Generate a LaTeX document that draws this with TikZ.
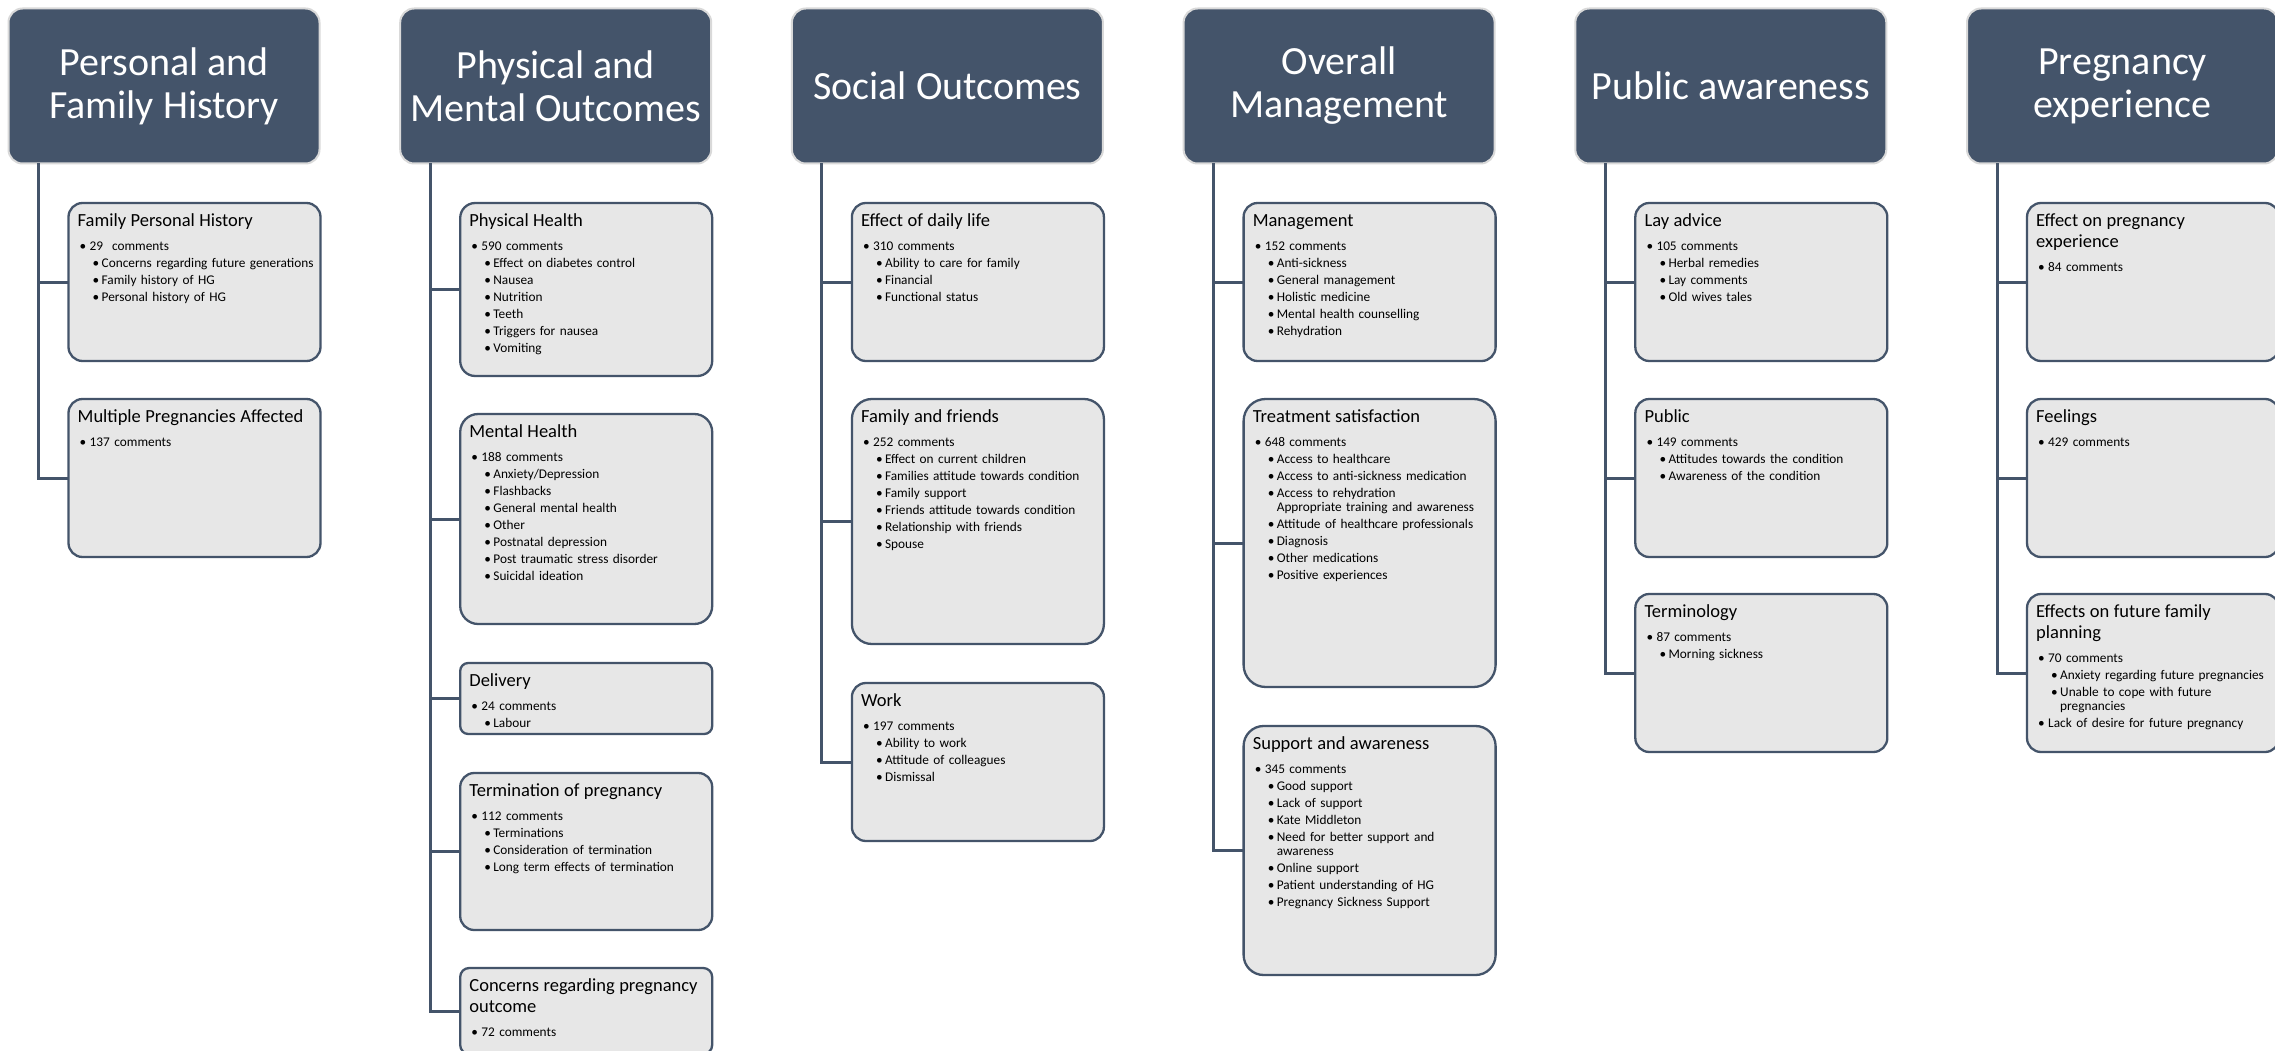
\documentclass[tikz,border=0pt]{standalone}
\usepackage{fontspec}
\setmainfont{Carlito}
\usetikzlibrary{calc}
\definecolor{hdrblue}{HTML}{44546A}
\definecolor{boxgray}{HTML}{E7E7E7}
\definecolor{hdrline}{HTML}{D9D9D9}
\tikzset{
 hdr/.style={draw=hdrline, line width=2pt, fill=hdrblue, rounded corners=14pt,
   minimum width=311pt, minimum height=155pt, anchor=north west, outer sep=0pt,
   inner sep=0pt, text=white, align=center, font=\fontsize{40}{43}\selectfont},
 cbox/.style={draw=hdrblue, line width=2.3pt, fill=boxgray, minimum width=252pt,
   anchor=north west, outer sep=0pt, inner sep=0pt},
 ctext/.style={anchor=north west, inner sep=0pt, text width=245pt, align=left,
   font=\fontsize{13.3}{14.5}\selectfont},
 conn/.style={draw=hdrblue, line width=3pt},
}
\newcommand\ttl[1]{\setlength\parskip{0pt}{\fontsize{18.5}{21}\selectfont\noindent\rule{0pt}{15pt}#1\par}\setlength\parskip{2.5pt}\vspace{7pt}}
\newcommand\bi[1]{\par\hangindent=12pt\hangafter=1\noindent\hspace*{2pt}\makebox[10pt][l]{\textbullet}#1\par}
\newcommand\bii[1]{\par\hangindent=24pt\hangafter=1\noindent\hspace*{15pt}\makebox[9pt][l]{\textbullet}#1\par}
\newcommand\cb[6]{%
  \node[cbox,minimum height=#4pt,rounded corners=#5pt] (#1) at (#2,#3) {};
  \node[ctext] (#1-t) at ($(#1.north west)+(9,8)$) {#6};}
\begin{document}
\begin{tikzpicture}[x=1pt,y=-1pt]
\useasboundingbox (0,0) rectangle (2275,1051);
\clip (0,0) rectangle (2275,1051);
\fill[white] (0,0) rectangle (2275,1051);

% headers
\node[hdr] (h1) at (8.5,8.5) {Personal and\\Family History};
\node[hdr] (h2) at (400.2,8.5) {Physical and\\Mental Outcomes};
\node[hdr] (h3) at (791.9,8.5) {Social Outcomes};
\node[hdr] (h4) at (1183.6,8.5) {Overall\\Management};
\node[hdr] (h5) at (1575.3,8.5) {Public awareness};
\node[hdr] (h6) at (1967,8.5) {Pregnancy\\experience};

% column 1
\cb{fph}{68.5}{203}{158}{14}{\ttl{Family Personal History}\bi{29\ \ comments}\bii{Concerns regarding future generations}\bii{Family history of HG}\bii{Personal history of HG}}
\cb{mpa}{68.5}{399}{158}{14}{\ttl{Multiple Pregnancies Affected}\bi{137 comments}}

% column 2
\cb{phys}{460.2}{203}{173}{15}{\ttl{Physical Health}\bi{590 comments}\bii{Effect on diabetes control}\bii{Nausea}\bii{Nutrition}\bii{Teeth}\bii{Triggers for nausea}\bii{Vomiting}}
\cb{ment}{460.2}{414}{210}{18}{\ttl{Mental Health}\bi{188 comments}\bii{Anxiety/Depression}\bii{Flashbacks}\bii{General mental health}\bii{Other}\bii{Postnatal depression}\bii{Post traumatic stress disorder}\bii{Suicidal ideation}}
\cb{deliv}{460.2}{663}{71}{8}{\ttl{Delivery}\bi{24 comments}\bii{Labour}}
\cb{term}{460.2}{773}{157}{14}{\ttl{Termination of pregnancy}\bi{112 comments}\bii{Terminations}\bii{Consideration of termination}\bii{Long term effects of termination}}
\cb{conc}{460.2}{968}{86}{9}{\ttl{Concerns regarding pregnancy\newline outcome}\bi{72 comments}}

% column 3
\cb{daily}{851.9}{203}{158}{14}{\ttl{Effect of daily life}\bi{310 comments}\bii{Ability to care for family}\bii{Financial}\bii{Functional status}}
\cb{famf}{851.9}{399}{245}{20}{\ttl{Family and friends}\bi{252 comments}\bii{Effect on current children}\bii{Families attitude towards condition}\bii{Family support}\bii{Friends attitude towards condition}\bii{Relationship with friends}\bii{Spouse}}
\cb{work}{851.9}{683}{158}{14}{\ttl{Work}\bi{197 comments}\bii{Ability to work}\bii{Attitude of colleagues}\bii{Dismissal}}

% column 4
\cb{mgmt}{1243.6}{203}{158}{14}{\ttl{Management}\bi{152 comments}\bii{Anti-sickness}\bii{General management}\bii{Holistic medicine}\bii{Mental health counselling}\bii{Rehydration}}
\cb{treat}{1243.6}{399}{288}{22}{\ttl{Treatment satisfaction}\bi{648 comments}\bii{Access to healthcare}\bii{Access to anti-sickness medication}\bii{Access to rehydration\newline Appropriate training and awareness}\bii{Attitude of healthcare professionals}\bii{Diagnosis}\bii{Other medications}\bii{Positive experiences}}
\cb{supp}{1243.6}{726}{249}{20}{\ttl{Support and awareness}\bi{345 comments}\bii{Good support}\bii{Lack of support}\bii{Kate Middleton}\bii{Need for better support and\newline awareness}\bii{Online support}\bii{Patient understanding of HG}\bii{Pregnancy Sickness Support}}

% column 5
\cb{lay}{1635.3}{203}{158}{14}{\ttl{Lay advice}\bi{105 comments}\bii{Herbal remedies}\bii{Lay comments}\bii{Old wives tales}}
\cb{pub}{1635.3}{399}{158}{14}{\ttl{Public}\bi{149 comments}\bii{Attitudes towards the condition}\bii{Awareness of the condition}}
\cb{termi}{1635.3}{594}{158}{14}{\ttl{Terminology}\bi{87 comments}\bii{Morning sickness}}

% column 6
\cb{epe}{2027}{203}{158}{14}{\ttl{Effect on pregnancy\newline experience}\bi{84 comments}}
\cb{feel}{2027}{399}{158}{14}{\ttl{Feelings}\bi{429 comments}}
\cb{effp}{2027}{594}{158}{14}{\ttl{Effects on future family\newline planning}\bi{70 comments}\bii{Anxiety regarding future pregnancies}\bii{Unable to cope with future\newline pregnancies}\bi{Lack of desire for future pregnancy}}

% connectors
\foreach \h/\b in {h1/fph,h1/mpa,
  h2/phys,h2/ment,h2/deliv,h2/term,h2/conc,
  h3/daily,h3/famf,h3/work,
  h4/mgmt,h4/treat,h4/supp,
  h5/lay,h5/pub,h5/termi,
  h6/epe,h6/feel,h6/effp}
  \draw[conn] ([xshift=30pt]\h.south west) |- (\b.west);
\end{tikzpicture}
\end{document}
